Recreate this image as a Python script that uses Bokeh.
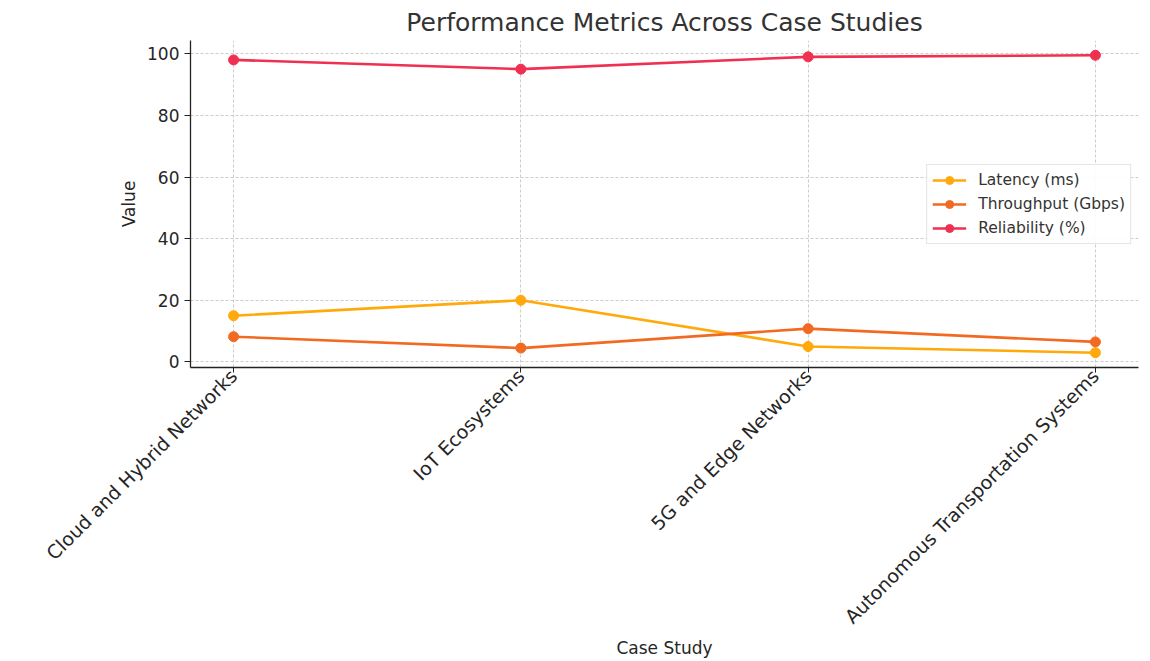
from bokeh.plotting import figure
from bokeh.models import Range1d, FactorRange, SingleIntervalTicker, Legend
from bokeh.embed import file_html
from bokeh.resources import INLINE
import math

# ---- data ----
case_studies = ["Cloud and Hybrid Networks", "IoT Ecosystems",
                "5G and Edge Networks", "Autonomous Transportation Systems"]
latency = [15, 20, 5, 3]
throughput = [8.2, 4.5, 10.8, 6.5]
reliability = [98, 95, 99, 99.5]

series = [
    ("Latency (ms)", latency, "#FFA90A"),
    ("Throughput (Gbps)", throughput, "#F26A21"),
    ("Reliability (%)", reliability, "#EF3050"),
]

FONT = "DejaVu Sans"
TXT = "#262626"

p = figure(width=1146, height=661,
           x_range=FactorRange(factors=case_studies, range_padding=-0.35,
                               range_padding_units="absolute"),
           y_range=Range1d(-1.8, 104.3),
           output_backend="svg", toolbar_location=None,
           title="Performance Metrics Across Case Studies",
           min_border_left=190, min_border_right=8,
           min_border_top=40, min_border_bottom=292)

p.title.align = "center"
p.title.text_font = FONT
p.title.text_font_size = "25px"
p.title.text_font_style = "normal"
p.title.text_color = "#333333"
p.title.standoff = 7

p.outline_line_color = None
p.background_fill_color = "white"
p.border_fill_color = "white"

renderers = []
for name, vals, col in series:
    l = p.line(case_studies, vals, line_color=col, line_width=2.6)
    c = p.scatter(case_studies, vals, size=10, fill_color=col, line_color=col)
    renderers.append((name, [l, c]))

legend = Legend(items=renderers, location="right")
legend.label_text_font = FONT
legend.label_text_font_size = "15.5px"
legend.label_text_color = "#333333"
legend.glyph_width = 34
legend.glyph_height = 20
legend.label_height = 20
legend.spacing = 4
legend.padding = 5
legend.label_standoff = 12
legend.margin = 7
legend.border_line_color = "#cccccc"
legend.border_line_width = 1
legend.background_fill_alpha = 0.9
p.add_layout(legend)

# axes
p.yaxis.ticker = SingleIntervalTicker(interval=20)
for ax in (p.xaxis[0], p.yaxis[0]):
    ax.major_label_text_font = FONT
    ax.major_label_text_font_size = "17px"
    ax.major_label_text_color = TXT
    ax.axis_label_text_font = FONT
    ax.axis_label_text_font_size = "17px"
    ax.axis_label_text_font_style = "normal"
    ax.axis_label_text_color = TXT
    ax.axis_line_color = "#222222"
    ax.axis_line_width = 1.3
    ax.major_tick_line_color = "#222222"
    ax.major_tick_out = 6
    ax.major_tick_in = 0
    ax.minor_tick_line_color = None

p.xaxis.major_tick_out = 5
p.xaxis.major_label_text_font_size = "19px"
p.xaxis.axis_label = "Case Study"
p.yaxis.axis_label = "Value"
p.xaxis.major_label_orientation = math.pi / 4
p.xaxis.major_label_standoff = 0
p.xaxis.axis_label_standoff = 0
p.xaxis.axis_label_text_line_height = 0.8
p.yaxis.axis_label_standoff = 5

p.xgrid.grid_line_color = "#cccccc"
p.ygrid.grid_line_color = "#cccccc"
p.xgrid.grid_line_dash = "3 2"
p.ygrid.grid_line_dash = "3 2"

open("out.html", "w").write(file_html(p, INLINE))
